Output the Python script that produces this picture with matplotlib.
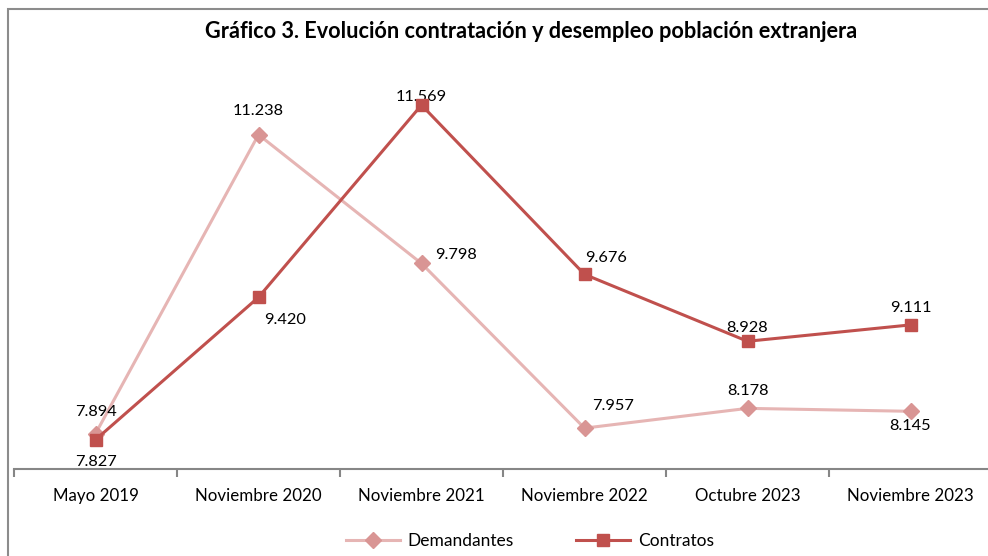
import matplotlib
matplotlib.use("Agg")
import matplotlib.pyplot as plt
from matplotlib.patches import Rectangle

categories = ["Mayo 2019", "Noviembre 2020", "Noviembre 2021",
              "Noviembre 2022", "Octubre 2023", "Noviembre 2023"]
demandantes = [7894, 11238, 9798, 7957, 8178, 8145]
contratos = [7827, 9420, 11569, 9676, 8928, 9111]

title = "Gráfico 3. Evolución contratación y desempleo población extranjera"

plt.rcParams['font.family'] = ['Lato', 'DejaVu Sans']

W, H = 988, 556
fig = plt.figure(figsize=(W / 100, H / 100), dpi=100)
ax = fig.add_axes([14 / W, 1 - 469 / H, (992 - 14) / W, (469 - 66.5) / H])

x = list(range(len(categories)))
c_dem_line = "#E6B5B4"
c_dem_mark = "#D99594"
c_con = "#C0504D"

ax.plot(x, demandantes, color=c_dem_line, lw=2.2, marker="D", ms=8,
        mfc=c_dem_mark, mec=c_dem_mark, label="Demandantes", zorder=3)
ax.plot(x, contratos, color=c_con, lw=2.2, marker="s", ms=9,
        mfc=c_con, mec=c_con, label="Contratos", zorder=4)

ax.set_xlim(-0.5, 5.5)
ax.set_ylim(7500, 12000)


def fmt(v):
    return f"{v:,}".replace(",", ".")


# label offsets in pixels (dx, dy)
dem_off = [(0, 22), (0, 24), (34, 8), (29, 22), (0, 17), (0, -15)]
con_off = [(0, -22), (27, -23), (0, 8), (22, 16), (0, 13), (0, 17)]
for i, v in enumerate(demandantes):
    ax.annotate(fmt(v), (i, v), xytext=dem_off[i], textcoords="offset pixels",
                ha="center", va="center", fontsize=11.8, color="black")
for i, v in enumerate(contratos):
    ax.annotate(fmt(v), (i, v), xytext=con_off[i], textcoords="offset pixels",
                ha="center", va="center", fontsize=11.8, color="black")

for s in ["top", "right", "left"]:
    ax.spines[s].set_visible(False)
ax.spines["bottom"].set_color("#868686")
ax.spines["bottom"].set_linewidth(1.5)
ax.set_yticks([])
ax.set_xticks(x)
ax.set_xticklabels(categories, fontsize=12.2)
ax.tick_params(axis="x", length=0, pad=14)
ax.set_xticks([i - 0.5 for i in range(len(categories) + 1)], minor=True)
ax.tick_params(axis="x", which="minor", length=6, width=1.5, color="#868686",
               direction="out")

fig.text(531 / W, 1 - 31 / H, title, ha="center", va="center",
         fontsize=15.6, fontweight="bold")

fig.legend(loc="center", bbox_to_anchor=(530 / W, 1 - 541 / H), ncol=2,
           frameon=False, fontsize=12.5, handlelength=3.1, columnspacing=3.6,
           handletextpad=0.45)

fig.patches.append(Rectangle((8 / W, -0.1), 1.1, 1 - 9 / H + 0.1,
                             transform=fig.transFigure, fill=False,
                             edgecolor="#8C8C8C", lw=1.5, zorder=0))

fig.savefig("out.png", dpi=100)
